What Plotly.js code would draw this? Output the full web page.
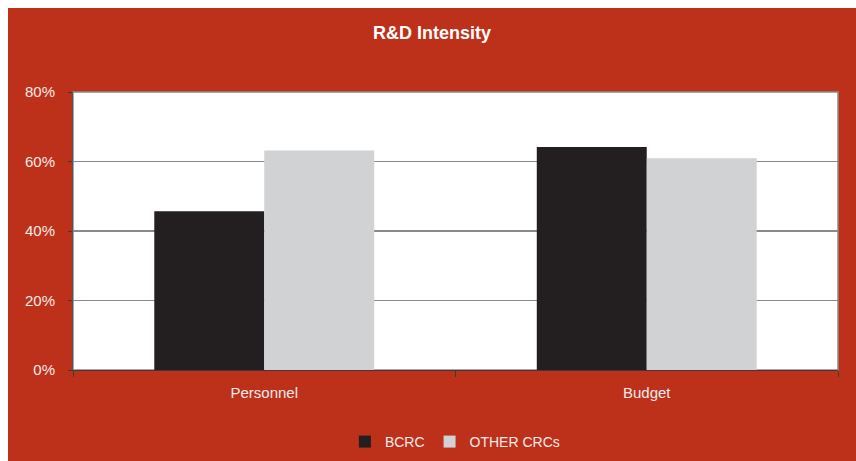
<!DOCTYPE html>
<html>
<head>
<meta charset="utf-8">
<script src="https://cdn.plot.ly/plotly-3.0.1.min.js"></script>
<style>
  html, body { margin: 0; padding: 0; background: #ffffff; }
  #chart { position: absolute; left: 8px; top: 8px; width: 848px; height: 453px; }
</style>
</head>
<body>
<div id="chart"></div>
<script>
const categories = ["Personnel", "Budget"];
const seriesNames = ["BCRC", "OTHER CRCs"];
const bcrcValues = [0.457, 0.642];
const otherValues = [0.632, 0.609];
const yTickValues = [0, 0.2, 0.4, 0.6, 0.8];
const yTickLabels = ["0%", "20%", "40%", "60%", "80%"];

const red = "#BD301A";
const labelColor = "#F7ECEA";
const fontFam = "'Liberation Sans Narrow', 'Liberation Sans', Arial, sans-serif";

const data = [
  { type: "bar", name: seriesNames[0], x: categories, y: bcrcValues,
    marker: { color: "#231F20" }, hoverinfo: "skip" },
  { type: "bar", name: seriesNames[1], x: categories, y: otherValues,
    marker: { color: "#D1D2D4" }, hoverinfo: "skip" }
];

const layout = {
  width: 848, height: 453,
  paper_bgcolor: red, plot_bgcolor: "#ffffff",
  margin: { l: 65, r: 18, t: 84, b: 91 },
  barmode: "group", bargap: 0.425, bargroupgap: 0,
  title: { text: "<b>R&D Intensity</b>", x: 0.5, xref: "container", xanchor: "center",
           y: 0.945, yref: "container", yanchor: "middle",
           font: { family: fontFam, size: 18, color: "#ffffff" } },
  font: { family: "'Liberation Sans', Arial, sans-serif", size: 15, color: labelColor },
  xaxis: { type: "category", showgrid: false, showline: true, linecolor: "#3a3a3a", linewidth: 1,
           ticks: "outside", tickson: "boundaries", ticklen: 6, tickcolor: "#3a3a3a",
           ticklabelstandoff: 9, tickfont: { size: 15, color: labelColor }, fixedrange: true },
  yaxis: { range: [0, 0.8], tickvals: yTickValues, ticktext: yTickLabels,
           showgrid: true, gridcolor: "#8A8A8A", gridwidth: 1.5,
           showline: true, linecolor: "#555555", linewidth: 1,
           ticks: "outside", ticklen: 4, tickcolor: "#3a3a3a", ticklabelstandoff: 10,
           zeroline: false, tickfont: { size: 15, color: labelColor }, fixedrange: true },
  shapes: [
    { type: "rect", xref: "paper", yref: "paper", x0: 0, x1: 1, y0: 0, y1: 1,
      line: { color: "#8A8A8A", width: 1.5 }, layer: "below" }
  ],
  showlegend: true,
  legend: { orientation: "h", x: 0.527, xref: "container", xanchor: "center",
            y: 0.042, yref: "container", yanchor: "middle",
            bgcolor: "rgba(0,0,0,0)", font: { size: 14, color: labelColor },
            itemwidth: 30, tracegroupgap: 0, traceorder: "normal" }
};

Plotly.newPlot("chart", data, layout, { staticPlot: true, displayModeBar: false });
</script>
</body>
</html>
